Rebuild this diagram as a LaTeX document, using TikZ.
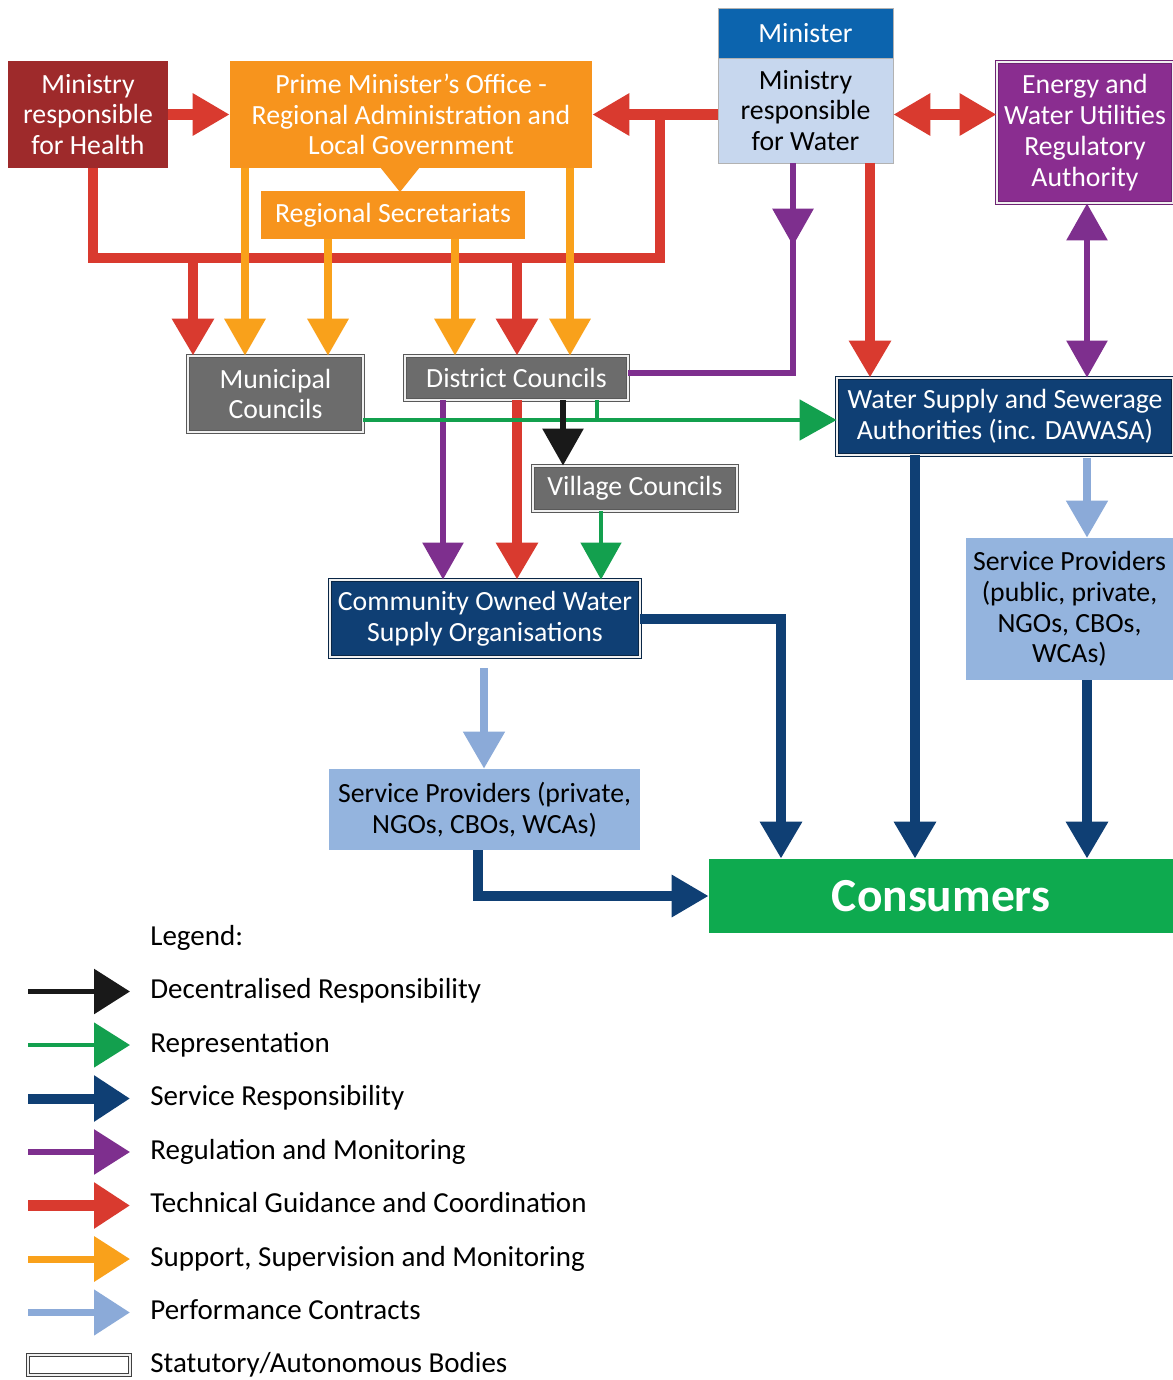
\documentclass[tikz,border=0pt]{standalone}
\usepackage{fontspec}
\setmainfont{Carlito}
\usetikzlibrary{arrows.meta,decorations.markings}

\definecolor{healthred}{HTML}{9E2A2B}
\definecolor{tgred}{HTML}{D93A2F}
\definecolor{pmoorange}{HTML}{F7941D}
\definecolor{ssmorange}{HTML}{F9A11B}
\definecolor{ministerblue}{HTML}{0C64AE}
\definecolor{waterlight}{HTML}{C7D7EE}
\definecolor{regpurple}{HTML}{8A2D90}
\definecolor{rmpurple}{HTML}{7E2F8E}
\definecolor{councilgrey}{HTML}{6C6C6C}
\definecolor{servnavy}{HTML}{0F3F74}
\definecolor{splight}{HTML}{94B4DE}
\definecolor{pclight}{HTML}{8BAAD8}
\definecolor{repgreen}{HTML}{13A04E}
\definecolor{consgreen}{HTML}{0EAA4F}

\tikzset{
  bighead/.tip={Triangle[width=0.8cm,length=0.74cm]},
  leghead/.tip={Triangle[width=0.88cm,length=0.72cm]},
  box/.style={rectangle, inner sep=0pt, align=center, font=\fontsize{15.8}{17.5}\selectfont},
  statutory/.style={draw=#1, double=white!88!gray, double distance=1.2pt, line width=0.5pt},
  % connector kinds
  tg/.style={draw=tgred, line width=6.2pt},
  tgarrow/.style={tg, -bighead},
  ssm/.style={draw=ssmorange, line width=4pt, -bighead},
  rm/.style={draw=rmpurple, line width=3.4pt, -bighead},
  rep/.style={draw=repgreen, line width=2.8pt, -bighead},
  dec/.style={draw=black!90, line width=3.4pt, -bighead},
  srv/.style={draw=servnavy, line width=5.7pt, -bighead},
  pc/.style={draw=pclight, line width=4.5pt, -bighead},
  legtext/.style={anchor=west, inner sep=0pt, text height=11pt, text depth=3pt, font=\fontsize{16.5}{19}\selectfont}
}

\begin{document}
\begin{tikzpicture}[x=0.02cm, y=-0.02cm]
  \fill[white] (0,0) rectangle (1173,1380);
  \useasboundingbox (0,0) rectangle (1173,1380);

  % top row of ministries
  \node[box, fill=healthred, text=white, minimum width=3.2cm, minimum height=2.14cm] (health) at (88,114.5) {Ministry\\responsible\\for Health};
  \node[box, fill=pmoorange, text=white, minimum width=7.24cm, minimum height=2.14cm] (pmo) at (411,114.5) {Prime Minister's Office -\\Regional Administration and\\Local Government};
  \node[box, fill=pmoorange, text=white, minimum width=5.28cm, minimum height=0.96cm] (regsec) at (393,215) {Regional Secretariats};
  \fill[pmoorange] (380,167) -- (420,167) -- (400,192) -- cycle;
  \node[box, fill=ministerblue, text=white, draw=gray!60, minimum width=3.5cm, minimum height=1cm] (minister) at (805.5,33) {Minister};
  \node[box, fill=waterlight, draw=gray!60, minimum width=3.5cm, minimum height=2.1cm] (water) at (805.5,110.5) {Ministry\\responsible\\for Water};
  \node[box, statutory=regpurple!80!black, fill=regpurple, text=white, minimum width=3.52cm, minimum height=2.82cm] (ewura) at (1085,132.5) {Energy and\\Water Utilities\\Regulatory\\Authority};

  % councils and authorities
  \node[box, statutory=gray!70!black, fill=councilgrey, text=white, minimum width=3.5cm, minimum height=1.52cm] (municipal) at (275.5,394) {Municipal\\Councils};
  \node[box, statutory=gray!70!black, fill=councilgrey, text=white, minimum width=4.46cm, minimum height=0.88cm] (district) at (516.5,378) {District Councils};
  \node[box, statutory=gray!70!black, fill=councilgrey, text=white, minimum width=4.08cm, minimum height=0.9cm] (village) at (635,488.5) {Village Councils};
  \node[box, statutory=servnavy!60!black, fill=servnavy, text=white, minimum width=6.72cm, minimum height=1.54cm] (wssa) at (1005,416.5) {Water Supply and Sewerage\\Authorities (inc. DAWASA)};
  \node[box, statutory=servnavy!60!black, fill=servnavy, text=white, minimum width=6.2cm, minimum height=1.54cm] (cowso) at (485,618.5) {Community Owned Water\\Supply Organisations};

  % service providers and consumers
  \node[box, fill=splight, minimum width=4.14cm, minimum height=2.84cm] (spright) at (1069.5,609) {Service Providers\\(public, private,\\NGOs, CBOs,\\WCAs)};
  \node[box, fill=splight, minimum width=6.22cm, minimum height=1.62cm] (spleft) at (484.5,809.5) {Service Providers (private,\\NGOs, CBOs, WCAs)};
  \node[box, fill=consgreen, text=white, minimum width=9.28cm, minimum height=1.48cm, font=\bfseries\fontsize{27}{32}\selectfont] (consumers) at (941,896) {Consumers};

  % tap points
  \coordinate (busR) at (660,258);
  \coordinate (r1) at (193,258);
  \coordinate (r2) at (517,258);
  \coordinate (o1) at (245,0);
  \coordinate (o2) at (328,0);
  \coordinate (o3) at (455,0);
  \coordinate (o4) at (570,0);
  \coordinate (pw) at (793,0);
  \coordinate (rw) at (870,0);
  \coordinate (gy) at (0,420);
  \coordinate (gt) at (597,0);
  \coordinate (bk) at (563,0);
  \coordinate (pd) at (443,0);
  \coordinate (gv) at (601,0);
  \coordinate (sc) at (781,0);
  \coordinate (pcl) at (484,668);
  \coordinate (sw) at (915,0);
  \coordinate (sr) at (1087,0);
  \coordinate (sl) at (478,0);

  % technical guidance
  \draw[tgarrow] (health.east) -- (pmo.west);
  \draw[tgarrow] (water.west |- pmo.east) -- (pmo.east);
  \draw[tg] (health.south -| 93,0) |- (busR) -- (busR |- pmo.east);
  \draw[tgarrow] (r1) -- (r1 |- municipal.north);
  \draw[tgarrow] (r2) -- (r2 |- district.north);
  \draw[tg, {bighead}-{bighead}] (water.east |- pmo.east) -- (ewura.west |- pmo.east);
  \draw[tgarrow] (water.south -| rw) -- (rw |- wssa.north);
  \draw[tgarrow] (district.south -| r2) -- (r2 |- cowso.north);

  % support, supervision and monitoring
  \draw[ssm] (pmo.south -| o1) -- (o1 |- municipal.north);
  \draw[ssm] (regsec.south -| o2) -- (o2 |- municipal.north);
  \draw[ssm] (regsec.south -| o3) -- (o3 |- district.north);
  \draw[ssm] (pmo.south -| o4) -- (o4 |- district.north);

  % regulation and monitoring
  \draw[rm, -, postaction={decorate}, decoration={markings, mark=at position 0.22 with {\arrow{bighead}}}]
    (water.south -| pw) |- (district.east |- 0,373);
  \draw[rm, {bighead}-{bighead}] (ewura.south -| sr) -- (sr |- wssa.north);
  \draw[rm] (district.south -| pd) -- (pd |- cowso.north);

  % representation
  \draw[rep] (municipal.east |- gy) -- (wssa.west |- gy);
  \draw[rep, -] (district.south -| gt) -- (gt |- gy);
  \draw[rep] (village.south -| gv) -- (gv |- cowso.north);

  % decentralised responsibility
  \draw[dec] (district.south -| bk) -- (bk |- village.north);

  % service responsibility
  \draw[srv] (cowso.east) -| (sc |- consumers.north);
  \draw[srv] (wssa.south -| sw) -- (sw |- consumers.north);
  \draw[srv] (spright.south -| sr) -- (sr |- consumers.north);
  \draw[srv] (spleft.south -| sl) |- (consumers.west);

  % performance contracts
  \draw[pc] (pcl) -- (pcl |- spleft.north);
  \draw[pc] ([yshift=-0.06cm]wssa.south -| sr) -- (sr |- spright.north);

  % legend
  \node[legtext] (legtitle) at (150,938) {Legend:};
  \foreach \sty/\lab [count=\i] in {dec/Decentralised Responsibility, rep/Representation, srv/Service Responsibility, rm/Regulation and Monitoring, tg/Technical Guidance and Coordination, ssm/{Support, Supervision and Monitoring}, pc/Performance Contracts} {
    \node[legtext] (leg\i) at (150,938+53.5*\i) {\lab};
    \coordinate (legs\i) at (28,938+53.5*\i);
    \draw[\sty, -leghead] (legs\i) -- ([xshift=-0.4cm]leg\i.west);
  }
  \node[legtext] (leg8) at (150,1365) {Statutory/Autonomous Bodies};
  \draw[statutory=black!75, fill=white] (28,1355) rectangle (130,1375);
\end{tikzpicture}
\end{document}
